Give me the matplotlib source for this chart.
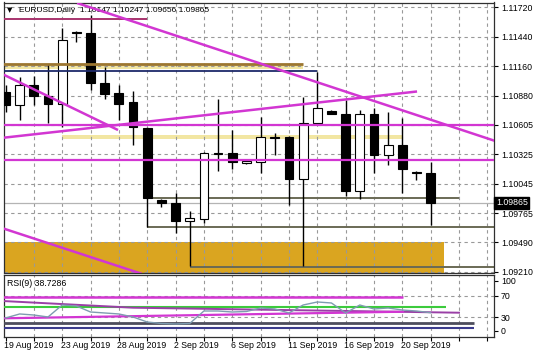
import matplotlib
matplotlib.use('Agg')
import matplotlib.pyplot as plt
from matplotlib.patches import Rectangle
import matplotlib.transforms as mtransforms

plt.rcParams['font.family'] = ['Liberation Sans', 'DejaVu Sans']

# ---------------- data ----------------
bar_dates = ['19 Aug', '20 Aug', '21 Aug', '22 Aug', '23 Aug', '25 Aug', '26 Aug', '27 Aug',
             '28 Aug', '29 Aug', '30 Aug', '1 Sep', '2 Sep', '3 Sep', '4 Sep', '5 Sep',
             '6 Sep', '8 Sep', '9 Sep', '10 Sep', '11 Sep', '12 Sep', '13 Sep', '15 Sep',
             '16 Sep', '17 Sep', '18 Sep', '19 Sep', '20 Sep', '22 Sep', '23 Sep']
opens = [1.10916, 1.10792, 1.10982, 1.10878, 1.10802, 1.11486, 1.11476, 1.11001,
         1.10906, 1.10821, 1.10574, 1.09891, 1.09862, 1.09691, 1.09710, 1.10337,
         1.10337, 1.10242, 1.10252, 1.10489, 1.10489, 1.10090, 1.10622, 1.10736,
         1.10707, 1.09976, 1.10707, 1.10318, 1.10413, 1.10157, 1.10147]
highs = [1.10982, 1.11058, 1.11068, 1.11182, 1.11524, 1.11495, 1.11647, 1.11153,
         1.10982, 1.10925, 1.10584, 1.09896, 1.09957, 1.09786, 1.10345, 1.10849,
         1.10555, 1.10270, 1.10679, 1.10527, 1.10498, 1.10868, 1.11106, 1.10745,
         1.10840, 1.10745, 1.10764, 1.10726, 1.10669, 1.10166, 1.10247]
lows = [1.10726, 1.10650, 1.10792, 1.10622, 1.10584, 1.11391, 1.10935, 1.10849,
        1.10650, 1.10413, 1.09634, 1.09824, 1.09577, 1.09264, 1.09672, 1.10166,
        1.10185, 1.10232, 1.10147, 1.10318, 1.09843, 1.09264, 1.10612, 1.10707,
        1.09929, 1.09900, 1.10147, 1.10223, 1.09957, 1.10081, 1.09656]
closes = [1.10792, 1.10982, 1.10878, 1.10802, 1.11410, 1.11480, 1.11001, 1.10897,
          1.10802, 1.10584, 1.09910, 1.09862, 1.09691, 1.09720, 1.10337, 1.10332,
          1.10252, 1.10261, 1.10489, 1.10484, 1.10090, 1.10622, 1.10764, 1.10710,
          1.09976, 1.10707, 1.10318, 1.10413, 1.10185, 1.10150, 1.09865]
rsi_values = [29.1, 36.4, 34.5, 30.9, 52.7, 50.9, 40.0, 38.2, 36.4, 30.9, 21.8, 19.1,
              18.2, 19.1, 41.8, 41.8, 40.0, 40.9, 47.3, 45.5, 38.2, 52.7, 58.2, 56.4,
              38.2, 52.7, 45.5, 47.3, 43.6, 41.8, 38.7286]

price_ticks = [1.11720, 1.11440, 1.11160, 1.10880, 1.10605, 1.10325, 1.10045,
               1.09765, 1.09490, 1.09210]
price_tick_labels = ['1.11720', '1.11440', '1.11160', '1.10880', '1.10605', '1.10325',
                     '1.10045', '1.09765', '1.09490', '1.09210']
rsi_levels = [70, 30]
rsi_tick_labels = ['100', '70', '30', '0']
rsi_label_pos = [96.4, 70, 30, 5.5]
date_label_idx = [0, 4, 8, 12, 16, 20, 24, 28]
date_labels = ['19 Aug 2019', '23 Aug 2019', '28 Aug 2019', '2 Sep 2019', '6 Sep 2019',
               '11 Sep 2019', '16 Sep 2019', '20 Sep 2019']
header = 'EURUSD,Daily  1.10147 1.10247 1.09656 1.09865'
rsi_title = 'RSI(9) 38.7286'
last_price = 1.09865

# drawn analysis objects (bar index, price)
trend_x = [[5.05, 34.6], [-0.2, 7.94], [-0.2, 29.04], [-0.2, 9.6]]
trend_y = [[1.11761, 1.10449], [1.11085, 1.10555], [1.10481, 1.10921], [1.09622, 1.09190]]
full_hlines = [1.10605, 1.10266]
gold_zone = (-0.2, 30.95, 1.09130, 1.09487)
pale_zones = [(-0.2, 21.0, 1.11134, 1.11182), (4.0, 28.0, 1.10470, 1.10512)]
olive_lines = [(1.09914, 10.0, 32.0), (1.09637, 10.0, 34.6), (1.09255, 13.0, 34.6)]
top_line = (1.11606, -0.2, 10.0)
brown_line = (1.11182, -0.2, 21.0)
navy_line = (1.11118, -0.2, 22.0)

# RSI panel objects
rsi_mag_h = (67.8, -0.2, 28.05)
rsi_green = (48.2, -0.2, 31.1)
rsi_purple_x = [-0.2, 9.0, 32.0]
rsi_purple_y = [60.0, 47.8, 38.7]
rsi_mag_up_x = [-0.2, 28.05]
rsi_mag_up_y = [28.5, 40.5]
rsi_gray_h = (19.5, -0.2, 33.06)
rsi_navy_h = (11.5, -0.2, 33.06)

# ---------------- layout ----------------
W, H = 536, 358
fig = plt.figure(figsize=(W / 100, H / 100), dpi=100)
fig.patch.set_facecolor('white')

def frac(x0, y0, x1, y1):
    return [x0 / W, 1 - y1 / H, (x1 - x0) / W, (y1 - y0) / H]

ax = fig.add_axes(frac(4, 2.5, 494, 272.5))
axr = fig.add_axes(frac(4, 275, 494, 337))

XMIN, XMAX = -0.106, 34.47
MAG = '#D236D2'
GRID = dict(color='#999999', lw=0.8, ls=(0, (3, 3)))
FS = 6.3

for a in (ax, axr):
    a.set_xlim(XMIN, XMAX)
    for s in a.spines.values():
        s.set_color('#303030')
        s.set_linewidth(0.9)
    a.set_facecolor('white')

ax.set_ylim(1.09202, 1.11766)
axr.set_ylim(-5.5, 107.3)

# grids
for i in range(2, 35, 2):
    ax.axvline(i, zorder=1, **GRID)
    axr.axvline(i, zorder=1, **GRID)
for p in price_ticks:
    ax.axhline(p, zorder=1, **GRID)
for v in rsi_levels:
    axr.axhline(v, zorder=1, **GRID)

# background zones
x0, x1, y0, y1 = gold_zone
ax.add_patch(Rectangle((x0, y0), x1 - x0, y1 - y0, facecolor='#DAA520', edgecolor='none', zorder=0.5))
for (x0, x1, y0, y1) in pale_zones:
    ax.add_patch(Rectangle((x0, y0), x1 - x0, y1 - y0, facecolor='#F2E6A2', edgecolor='none', zorder=0.5))

# candles
bw = 0.62
for i, (o, h, l, c) in enumerate(zip(opens, highs, lows, closes)):
    ax.vlines(i, l, h, color='black', lw=1.0, zorder=3)
    lo, hi = min(o, c), max(o, c)
    if hi - lo < 0.00012:
        lo, hi = lo - 0.00004, hi + 0.00004
    ax.add_patch(Rectangle((i - bw / 2, lo), bw, hi - lo,
                           facecolor='black' if c < o else 'white', edgecolor='black',
                           lw=0.8, zorder=4))

# horizontal objects
ax.hlines(top_line[0], top_line[1], top_line[2], color='#A8346E', lw=1.4, zorder=5)
ax.hlines(brown_line[0], brown_line[1], brown_line[2], color='#9C7630', lw=2.0, zorder=5)
ax.hlines(navy_line[0], navy_line[1], navy_line[2], color='#1E2A6A', lw=1.3, zorder=5)
for p in full_hlines:
    ax.axhline(p, color=MAG, lw=1.6, zorder=5)
for (p, a0, a1) in olive_lines:
    ax.hlines(p, a0, a1, color='#6A6A55', lw=1.4, zorder=2.5)
ax.axhline(last_price, color='#B4B4B4', lw=0.9, zorder=2)

# trend lines
for xs, ys in zip(trend_x, trend_y):
    ax.plot(xs, ys, color=MAG, lw=1.8, zorder=6, solid_capstyle='butt')

# price axis
ax.yaxis.tick_right()
ax.set_yticks(price_ticks)
ax.set_yticklabels(price_tick_labels)
ax.tick_params(axis='y', direction='out', length=3, width=0.8, pad=2, labelsize=FS, colors='black')
ax.set_xticks([])
trans = mtransforms.blended_transform_factory(ax.transAxes, ax.transData)
ax.text(1.004, last_price, '1.09865', transform=trans, ha='left', va='center', fontsize=FS,
        color='white', zorder=10,
        bbox=dict(boxstyle='square,pad=0.18', facecolor='black', edgecolor='black'))

# header
ax.text(0.006, 0.97, '\u25BC', transform=ax.transAxes, fontsize=5, va='center', ha='left',
        family='DejaVu Sans')
ax.text(0.03, 0.97, header, transform=ax.transAxes, fontsize=6.0, va='center', ha='left')

# RSI panel
axr.hlines(rsi_mag_h[0], rsi_mag_h[1], rsi_mag_h[2], color=MAG, lw=1.8, zorder=4)
axr.hlines(rsi_green[0], rsi_green[1], rsi_green[2], color='#3CCB3C', lw=1.5, zorder=3)
axr.plot(rsi_purple_x, rsi_purple_y, color='#9A3FA6', lw=1.4, zorder=4)
axr.plot(rsi_mag_up_x, rsi_mag_up_y, color=MAG, lw=1.6, zorder=4)
axr.hlines(rsi_gray_h[0], rsi_gray_h[1], rsi_gray_h[2], color='#4D4D5C', lw=2.0, zorder=4)
axr.hlines(rsi_navy_h[0], rsi_navy_h[1], rsi_navy_h[2], color='#3B3B8C', lw=1.5, zorder=4)
axr.plot(range(len(rsi_values)), rsi_values, color='#7E9CB0', lw=1.0, zorder=5)

axr.yaxis.tick_right()
axr.set_yticks(rsi_label_pos)
axr.set_yticklabels(rsi_tick_labels)
axr.tick_params(axis='y', direction='out', length=3, width=0.8, pad=2, labelsize=FS)
axr.set_xticks(list(range(0, 35, 2)))
axr.set_xticklabels([])
axr.tick_params(axis='x', direction='out', length=3, width=0.8)
axr.text(0.006, 0.87, rsi_title, transform=axr.transAxes, fontsize=FS, va='center', ha='left')

transd = mtransforms.blended_transform_factory(axr.transData, axr.transAxes)
for i, lab in zip(date_label_idx, date_labels):
    axr.text(i - 0.1, -0.13, lab, transform=transd, ha='left', va='center', fontsize=FS)

fig.savefig('out.png', dpi=100, facecolor='white')
